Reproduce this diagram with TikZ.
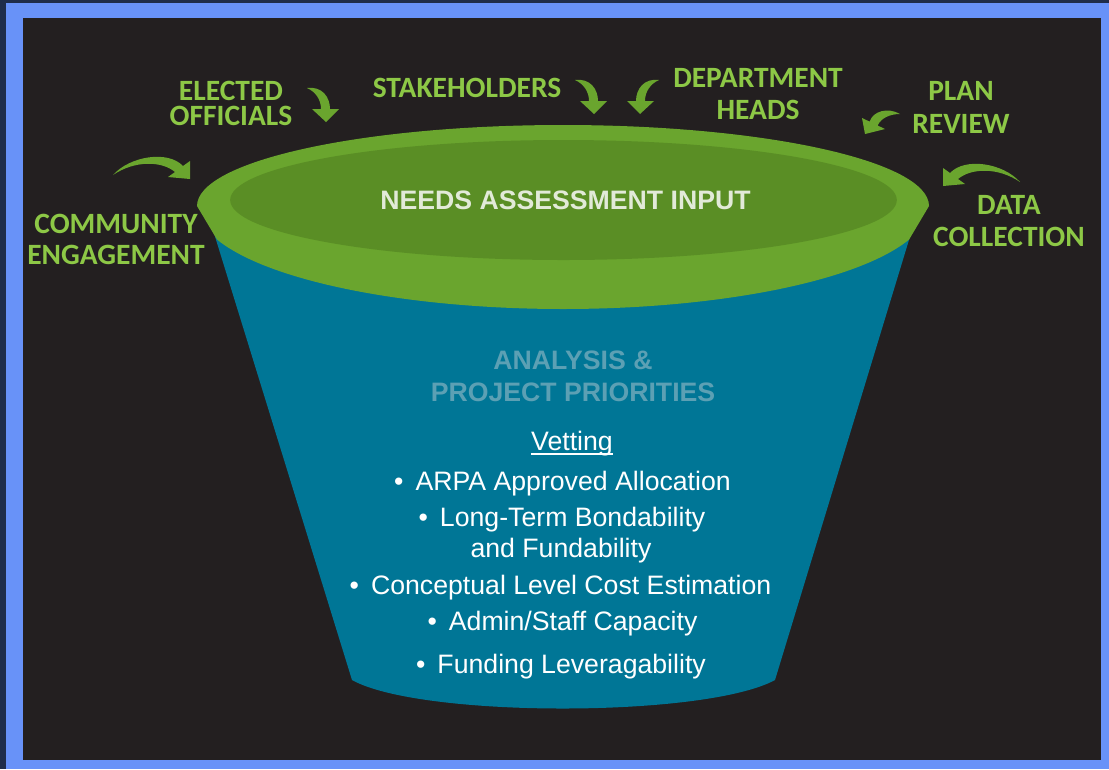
\documentclass[tikz,border=0pt]{standalone}
\usepackage{fontspec}
\setmainfont{Liberation Sans}
\newfontfamily\lblfont{Carlito}
\usetikzlibrary{calc}
\definecolor{bgnavy}{RGB}{31,45,74}
\definecolor{bgblue}{RGB}{104,146,248}
\definecolor{bgdark}{RGB}{35,31,32}
\definecolor{rimgreen}{RGB}{106,165,46}
\definecolor{innergreen}{RGB}{90,142,37}
\definecolor{funnelteal}{RGB}{0,118,150}
\definecolor{lblgreen}{RGB}{141,200,70}
\definecolor{needstext}{RGB}{226,234,216}
\definecolor{analysistext}{RGB}{92,160,180}
\tikzset{
  lbl/.style={anchor=base, inner sep=0pt, text=lblgreen, font=\lblfont\bfseries\fontsize{22.1}{24}\selectfont},
  bodytext/.style={anchor=base, inner sep=0pt, text=white, font=\fontsize{20}{24}\selectfont},
  headtext/.style={anchor=base, inner sep=0pt, text=analysistext, font=\bfseries\fontsize{20}{24}\selectfont},
  needsstyle/.style={anchor=base, inner sep=0pt, text=needstext, font=\bfseries\fontsize{20}{24}\selectfont},
  arrowshape/.style={fill=rimgreen},
}
\newcommand{\bul}{\textbullet\hspace{0.45em}}
\begin{document}
\begin{tikzpicture}[x=0.75pt,y=-0.75pt]
% background and frame
\fill[bgnavy] (0,0) rectangle (1109,769);
\fill[bgblue] (6,3) rectangle (1109,769);
\fill[bgdark] (23,18) rectangle (1101,760);

% funnel body
\fill[funnelteal] (213,230) -- (352,680) .. controls (420,718) and (705,718) .. (775,680) -- (912,230) -- cycle;
% rim
\fill[rimgreen] (197,206) arc[start angle=180,end angle=0,x radius=274.5pt,y radius=60.75pt]
  -- (909.1,239.5) arc[start angle=-19,end angle=-161,x radius=274.5pt,y radius=77.25pt] -- cycle;
% inner opening
\fill[innergreen] (563.5,200) ellipse[x radius=250pt, y radius=45pt];

\node[needsstyle] (needs) at (565.5,209) {NEEDS ASSESSMENT INPUT};

% funnel texts
\node[headtext] (an1) at (573,369) {ANALYSIS \&};
\node[headtext] (an2) at (573,401) {PROJECT PRIORITIES};
\node[bodytext] (vet) at (572,450.7) {Vetting};
\draw[white, line width=1.5pt] ($(vet.base west)+(0,3)$) -- ($(vet.base east)+(0,3)$);
\node[bodytext] (b1) at (562.5,490) {\bul ARPA Approved Allocation};
\node[bodytext] (b2) at (562,526.7) {\bul Long-Term Bondability};
\node[bodytext] (b2b) at (561,557) {and Fundability};
\node[bodytext] (b3) at (560.5,594) {\bul Conceptual Level Cost Estimation};
\node[bodytext] (b4) at (562.5,630) {\bul Admin/Staff Capacity};
\node[bodytext] (b5) at (561,673) {\bul Funding Leveragability};

% labels
\node[lbl] (com1) at (116,233) {COMMUNITY};
\node[lbl] (com2) at (116,264) {ENGAGEMENT};
\node[lbl] (ele1) at (231,100) {ELECTED};
\node[lbl] (ele2) at (231,125) {OFFICIALS};
\node[lbl] (stk) at (467,97) {STAKEHOLDERS};
\node[lbl] (dep1) at (758,87) {DEPARTMENT};
\node[lbl] (dep2) at (758,119) {HEADS};
\node[lbl] (pln1) at (961,100) {PLAN};
\node[lbl] (pln2) at (961,133) {REVIEW};
\node[lbl] (dat1) at (1009,214) {DATA};
\node[lbl] (dat2) at (1009,246) {COLLECTION};

% curved arrows
% community engagement
\fill[arrowshape] (113,175) .. controls (130,156) and (168,150) .. (183,166) -- (190,161) -- (190,179) -- (168,177) -- (175,172) .. controls (162,161) and (135,160) .. (113,175) -- cycle;
% elected officials
\fill[arrowshape] (307,88) .. controls (322,86) and (330,97) .. (330,109) -- (339,109) -- (326,122) -- (312,109) -- (321,109) .. controls (321,100) and (316,92) .. (307,88) -- cycle;
% stakeholders
\fill[arrowshape] (575,80) .. controls (590,78) and (598,89) .. (598,101) -- (607,101) -- (594,114) -- (580,101) -- (589,101) .. controls (589,92) and (584,84) .. (575,80) -- cycle;
% department heads
\fill[arrowshape] (659,80) .. controls (644,78) and (636,89) .. (636,101) -- (627,101) -- (640,114) -- (654,101) -- (645,101) .. controls (645,92) and (650,84) .. (659,80) -- cycle;
% plan review
\fill[arrowshape] (900,114) .. controls (888,107) and (873,111) .. (869.6,121.6) -- (862,118) -- (865,134) -- (885,129) -- (877.6,125.5) .. controls (881,118) and (890,114) .. (900,114) -- cycle;
% data collection
\fill[arrowshape] (1020,182) .. controls (1003,163) and (965,157) .. (950,173) -- (943,168) -- (943,186) -- (965,184) -- (958,179) .. controls (971,168) and (998,167) .. (1020,182) -- cycle;
\end{tikzpicture}
\end{document}
